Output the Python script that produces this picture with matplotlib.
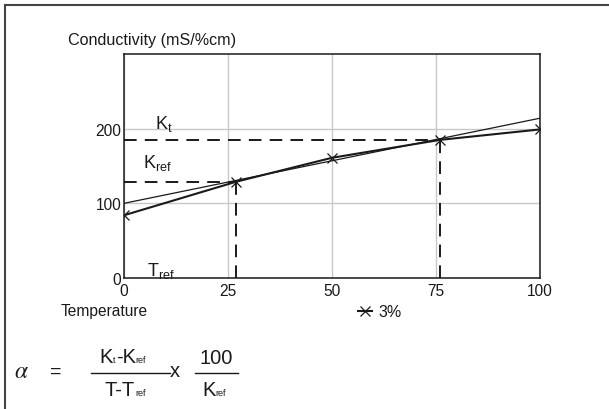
import matplotlib

matplotlib.use("Agg")
import matplotlib.pyplot as plt
from matplotlib.lines import Line2D
from matplotlib.offsetbox import AnnotationBbox, HPacker, TextArea

INK = "#1a1a1a"
GRID = "#c8c8c8"

plt.rcParams.update({
    "font.family": ["Liberation Sans", "DejaVu Sans"], "font.size": 11.2,
    "text.color": INK, "axes.edgecolor": INK, "xtick.color": INK, "ytick.color": INK,
})

# measured curve (3% compensation) and its linear approximation
temp = [0, 27, 50, 76, 100]
cond = [84, 129, 161, 185, 199]
lin_t = [0, 100]
lin_k = [100, 214]
t_ref, k_ref = 27, 129
t_t, k_t = 76, 185
xticks = [0, 25, 50, 75, 100]
yticks = [0, 100, 200]

W, H = 609, 410
fig = plt.figure(figsize=(W / 100, H / 100), dpi=100)
ax = fig.add_axes([124 / W, 1 - 279 / H, 416 / W, 224 / H])

ax.plot(lin_t, lin_k, color=INK, linewidth=0.9, zorder=3)
ax.plot(temp, cond, "x-", color=INK, linewidth=1.5, markersize=7, markeredgewidth=0.9,
        zorder=4, label="3%")

dash = dict(color=INK, linewidth=1.4, dashes=(6.5, 4.2), zorder=3)
ax.plot([0, t_ref], [k_ref, k_ref], **dash)
ax.plot([t_ref, t_ref], [0, k_ref], **dash)
ax.plot([0, t_t], [k_t, k_t], **dash)
ax.plot([t_t, t_t], [0, k_t], **dash)

ax.text(7.5, 201, r"$\mathregular{K_t}$", fontsize=13)
ax.text(4.6, 148, r"$\mathregular{K_{ref}}$", fontsize=13)
ax.text(5.5, 4, r"$\mathregular{T_{ref}}$", fontsize=13)

ax.set_xlim(0, 100)
ax.set_ylim(0, 300)
ax.set_xticks(xticks)
ax.set_yticks(yticks)
ax.tick_params(length=0, labelsize=11.2)
ax.tick_params(axis="x", pad=3.5)
ax.tick_params(axis="y", pad=2)
ax.grid(True, color=GRID, linewidth=1.0)
ax.set_axisbelow(True)
for s in ax.spines.values():
    s.set_linewidth(1.1)
    s.set_zorder(5)

ax.legend(loc="center", bbox_to_anchor=(380 / W, 1 - 313 / H), bbox_transform=fig.transFigure,
          frameon=False, handlelength=0.9, handletextpad=0.4, fontsize=11.5)

fig.text(68 / W, 1 - 40 / H, "Conductivity (mS/%cm)", fontsize=11.6, va="center")
fig.text(61 / W, 1 - 312 / H, "Temperature", fontsize=11.2, va="center")

# page frame (top and left edges only)
frame = dict(color="#444444", linewidth=1.5, transform=fig.transFigure)
fig.add_artist(Line2D([5 / W, 1], [1 - 6 / H, 1 - 6 / H], **frame))
fig.add_artist(Line2D([5 / W, 5 / W], [0, 1 - 6 / H], **frame))


def word(parts, x, y):
    kids = [TextArea(t, textprops=dict(fontsize=s, color=INK)) for t, s in parts]
    box = HPacker(children=kids, align="baseline", pad=0, sep=0)
    fig.add_artist(AnnotationBbox(box, (x, H - y), xycoords="figure pixels",
                                  box_alignment=(0.5, 0.5), frameon=False))


# alpha = (Kt - Kref) / (T - Tref) x 100 / Kref
fig.text(21 / W, 1 - 372 / H, r"$\alpha$", fontsize=17, math_fontfamily="stix",
         ha="center", va="center")
fig.text(56 / W, 1 - 372 / H, "=", fontsize=14, ha="center", va="center")
word([("K", 14.5), ("t", 6.5), ("-K", 14.5), ("ref", 6.5)], 123, 358)
word([("T-T", 14.5), ("ref", 6.5)], 125, 391)
fig.text(175 / W, 1 - 372 / H, "x", fontsize=14.5, ha="center", va="center")
word([("100", 14.5)], 216, 359)
word([("K", 14.5), ("ref", 6.5)], 214, 391)
bar = dict(color=INK, linewidth=1.0, transform=fig.transFigure)
fig.add_artist(Line2D([91 / W, 170 / W], [1 - 374 / H] * 2, **bar))
fig.add_artist(Line2D([195 / W, 238 / W], [1 - 374 / H] * 2, **bar))

fig.savefig("out.png", dpi=100)
